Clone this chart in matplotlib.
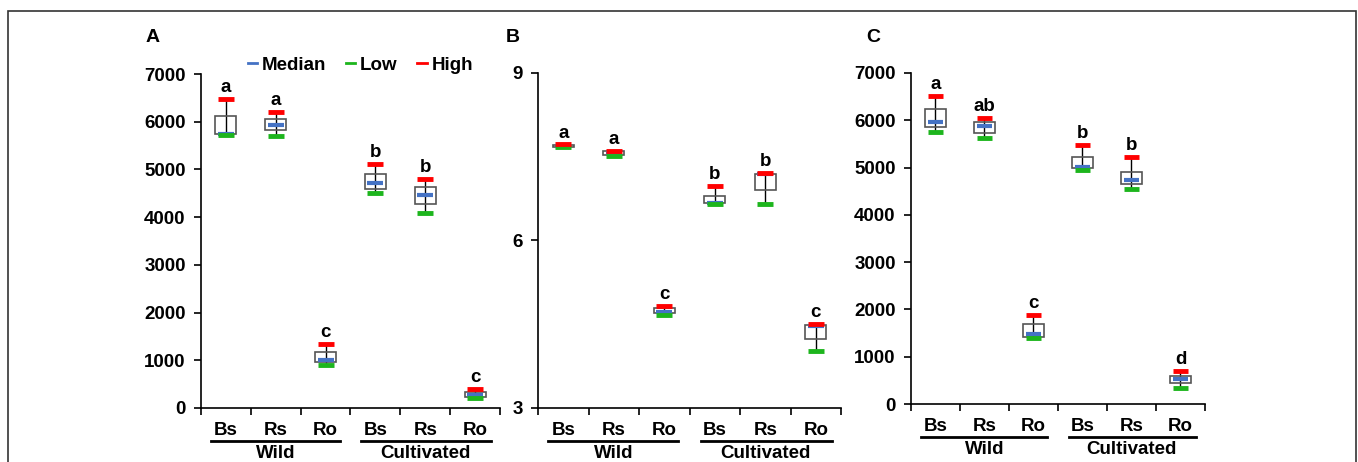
import matplotlib
matplotlib.use('Agg')
import matplotlib.pyplot as plt
import matplotlib.transforms as mtransforms
from matplotlib.lines import Line2D
from matplotlib.patches import Rectangle

plt.rcParams['font.family'] = ['Liberation Sans', 'DejaVu Sans']
plt.rcParams['font.weight'] = 'bold'

species = ['Bs', 'Rs', 'Ro', 'Bs', 'Rs', 'Ro']
groups = ['Wild', 'Cultivated']

# panel A
a_high = [6480, 6205, 1342, 5115, 4801, 398]
a_top = [6121, 6059, 1174, 4906, 4633, 335]
a_bottom = [5744, 5828, 964, 4591, 4277, 230]
a_median = [5745, 5933, 1006, 4717, 4465, 272]
a_low = [5723, 5702, 901, 4507, 4088, 210]
a_letters = ['a', 'a', 'c', 'b', 'b', 'c']

# panel B
b_high = [7.72, 7.60, 4.83, 6.98, 7.21, 4.50]
b_top = [7.71, 7.60, 4.79, 6.80, 7.19, 4.49]
b_bottom = [7.68, 7.54, 4.70, 6.67, 6.90, 4.23]
b_median = [7.69, 7.57, 4.72, 6.67, 7.19, 4.47]
b_low = [7.68, 7.51, 4.67, 6.66, 6.65, 4.02]
b_letters = ['a', 'a', 'c', 'b', 'b', 'c']

# panel C
c_high = [6520, 6048, 1875, 5470, 5216, 691]
c_top = [6231, 5970, 1685, 5230, 4912, 592]
c_bottom = [5850, 5737, 1424, 4984, 4652, 437]
c_median = [5956, 5879, 1473, 5011, 4737, 522]
c_low = [5758, 5617, 1403, 4948, 4553, 338]
c_letters = ['a', 'ab', 'c', 'b', 'b', 'd']

BLUE = '#4472C4'
GREEN = '#1DB51D'
RED = '#FF0000'
FS = 13.5


def draw_panel(ax, high, top, bottom, median, low, letters):
    xs = [i + 0.5 for i in range(len(high))]
    ax.vlines(xs, low, high, color='k', lw=1, zorder=2)
    ax.bar(xs, [t - b for t, b in zip(top, bottom)], bottom=bottom, width=0.42,
           fill=False, edgecolor='#555555', lw=1.2, zorder=3)
    ax.hlines(median, [x - 0.16 for x in xs], [x + 0.16 for x in xs], color=BLUE, lw=3, zorder=4)
    ax.hlines(low, [x - 0.16 for x in xs], [x + 0.16 for x in xs], color=GREEN, lw=3.5, zorder=5)
    ax.hlines(high, [x - 0.16 for x in xs], [x + 0.16 for x in xs], color=RED, lw=3.5, zorder=6)
    for x, h, s in zip(xs, high, letters):
        ax.annotate(s, (x, h), xytext=(0, 5), textcoords='offset points',
                    ha='center', va='baseline', fontsize=FS, fontweight='bold')


def set_ax(ax, fig):
    for side in ['top', 'right']:
        ax.spines[side].set_visible(False)
    for side in ['left', 'bottom']:
        ax.spines[side].set_linewidth(1.2)
    ax.set_xlim(0, 6)
    ax.set_xticks(range(7))
    ax.set_xticklabels([])
    ax.set_xticks([i + 0.5 for i in range(6)], minor=True)
    ax.set_xticklabels(species, minor=True, fontsize=FS, fontweight='bold')
    ax.tick_params(axis='x', which='major', direction='out', length=5, width=1.2)
    ax.tick_params(axis='x', which='minor', length=0, pad=10)
    ax.tick_params(axis='y', direction='out', length=5, width=1.2, pad=6, labelsize=FS)
    for lab in ax.get_yticklabels():
        lab.set_fontweight('bold')

    base = mtransforms.blended_transform_factory(ax.transData, ax.transAxes)
    line_tr = base + mtransforms.ScaledTranslation(0, -33 / 100, fig.dpi_scale_trans)
    text_tr = base + mtransforms.ScaledTranslation(0, -37 / 100, fig.dpi_scale_trans)
    for (x0, x1), name, xc in zip([(0.2, 2.78), (3.22, 5.82)], groups, [1.5, 4.5]):
        ax.plot([x0, x1], [0, 0], color='k', lw=2, transform=line_tr, clip_on=False)
        ax.text(xc, 0, name, transform=text_tr, ha='center', va='top',
                fontsize=FS, fontweight='bold')


fig = plt.figure(figsize=(13.58, 4.62), dpi=100)
ax_a = fig.add_axes([0.148, 0.1169, 0.2202, 0.7229])
ax_b = fig.add_axes([0.3962, 0.1169, 0.2231, 0.7251])
ax_c = fig.add_axes([0.6708, 0.1255, 0.2165, 0.7165])

draw_panel(ax_a, a_high, a_top, a_bottom, a_median, a_low, a_letters)
draw_panel(ax_b, b_high, b_top, b_bottom, b_median, b_low, b_letters)
draw_panel(ax_c, c_high, c_top, c_bottom, c_median, c_low, c_letters)

ax_a.set_ylim(0, 7000)
ax_a.set_yticks(range(0, 7001, 1000))
ax_b.set_ylim(3, 9)
ax_b.set_yticks([3, 6, 9])
ax_c.set_ylim(0, 7000)
ax_c.set_yticks(range(0, 7001, 1000))

for ax in [ax_a, ax_b, ax_c]:
    set_ax(ax, fig)

handles = [Line2D([], [], color=c, lw=2) for c in [BLUE, GREEN, RED]]
ax_a.legend(handles, ['Median', 'Low', 'High'], loc='center left',
            bbox_to_anchor=(0.157, 1.027), ncol=3, frameon=False,
            handlelength=0.5, handletextpad=0.25, columnspacing=1.05,
            borderpad=0, borderaxespad=0, prop={'size': 13.5, 'weight': 'bold'})

for x, s in zip([0.1068, 0.3726, 0.6377], ['A', 'B', 'C']):
    fig.text(x, 0.918, s, fontsize=14, fontweight='bold', va='center', ha='left')

fig.patches.append(Rectangle((8 / 1358, -0.1), (1356 - 8) / 1358, 1.1 - 11 / 462,
                             transform=fig.transFigure, fill=False,
                             edgecolor='#333333', lw=1.2))

fig.savefig('out.png', dpi=100)
